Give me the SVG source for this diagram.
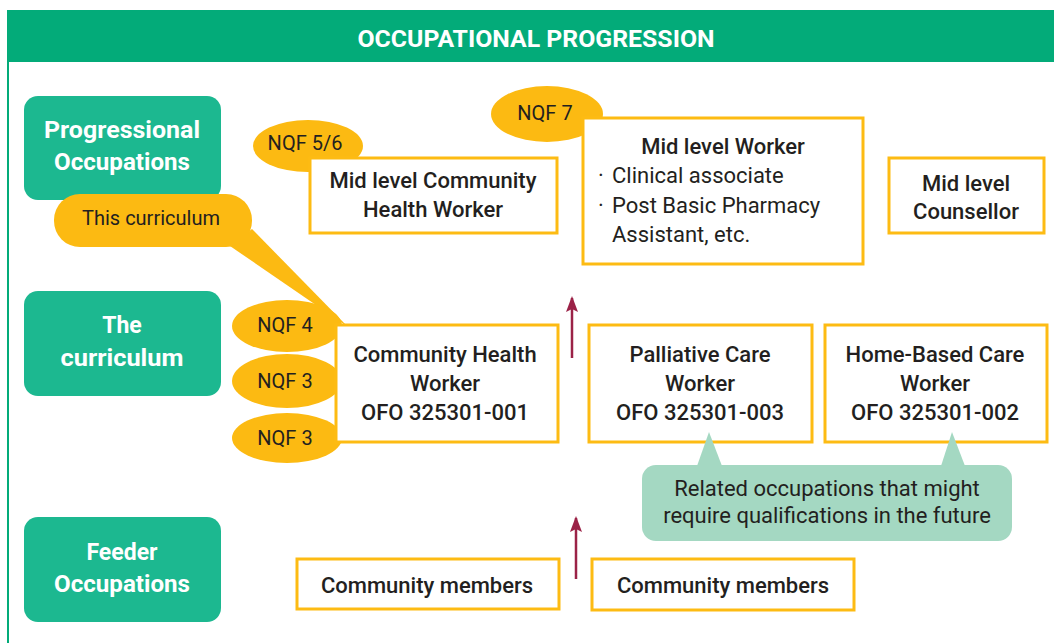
<svg xmlns="http://www.w3.org/2000/svg" width="1054" height="643" viewBox="0 0 1054 643">
<defs>
<style>
.hdr{fill:#03AB79}
.side{fill:#1CB890}
.sideT{font-family:Roboto,"Liberation Sans",sans-serif;font-weight:700;font-size:23px;fill:#fff;text-anchor:middle}
.box{fill:#fff;stroke:#FDBB13;stroke-width:3}
.bt{font-family:Roboto,"Liberation Sans",sans-serif;font-weight:500;font-size:22px;fill:#231F20;text-anchor:middle}
.rt{font-family:Roboto,"Liberation Sans",sans-serif;font-weight:400;font-size:22px;fill:#231F20}
.nqf{fill:#FCBA12}
.nt{font-family:Roboto,"Liberation Sans",sans-serif;font-weight:400;font-size:20px;fill:#231F20;text-anchor:middle}
.note{fill:#A4D8C2}
.arr{stroke:#9B2247;stroke-width:2.5;fill:none}
</style>
<marker id="ah" markerWidth="16" markerHeight="12" refX="14" refY="6" orient="auto" markerUnits="userSpaceOnUse" viewBox="0 0 16 12">
<path d="M16,6 L0,0 L3,6 L0,12 Z" fill="#9B2247"/>
</marker>
</defs>
<rect width="1054" height="643" fill="#fff"/>

<g id="header">
<rect class="hdr" x="7" y="10" width="1047" height="52"/>
<rect x="7" y="62" width="2" height="581" fill="#03AB79"/>
<text x="536" y="47" font-family="Roboto,'Liberation Sans',sans-serif" font-weight="700" font-size="24" fill="#fff" text-anchor="middle" textLength="357" lengthAdjust="spacingAndGlyphs">OCCUPATIONAL PROGRESSION</text>
</g>

<g id="side-progressional">
<rect class="side" x="24" y="96" width="197" height="104" rx="14"/>
<text class="sideT" x="122" y="138" textLength="156" lengthAdjust="spacingAndGlyphs">Progressional</text>
<text class="sideT" x="122" y="170" textLength="136" lengthAdjust="spacingAndGlyphs">Occupations</text>
</g>
<g id="side-curriculum">
<rect class="side" x="24" y="291" width="197" height="105" rx="14"/>
<text class="sideT" x="122" y="333">The</text>
<text class="sideT" x="122" y="366" textLength="123" lengthAdjust="spacingAndGlyphs">curriculum</text>
</g>
<g id="side-feeder">
<rect class="side" x="24" y="517" width="197" height="105" rx="14"/>
<text class="sideT" x="122" y="560">Feeder</text>
<text class="sideT" x="122" y="592" textLength="136" lengthAdjust="spacingAndGlyphs">Occupations</text>
</g>

<g id="mid-chw">
<ellipse class="nqf" cx="308" cy="146" rx="55" ry="26"/>
<text class="nt" x="305" y="150">NQF 5/6</text>
<rect class="box" x="310" y="158" width="247" height="75"/>
<text class="bt" x="433" y="188">Mid level Community</text>
<text class="bt" x="433" y="217">Health Worker</text>
</g>

<g id="mid-worker">
<ellipse class="nqf" cx="547" cy="114" rx="56" ry="28"/>
<text class="nt" x="545" y="120">NQF 7</text>
<rect class="box" x="583" y="118" width="280" height="146"/>
<text class="bt" x="723" y="154">Mid level Worker</text>
<text class="rt" x="598" y="183">·</text>
<text class="rt" x="612" y="183">Clinical associate</text>
<text class="rt" x="598" y="213">·</text>
<text class="rt" x="612" y="213">Post Basic Pharmacy</text>
<text class="rt" x="612" y="242">Assistant, etc.</text>
</g>

<g id="mid-counsellor">
<rect class="box" x="889" y="158" width="155" height="75"/>
<text class="bt" x="966" y="191">Mid level</text>
<text class="bt" x="966" y="219">Counsellor</text>
</g>

<g id="this-curriculum">
<path class="nqf" d="M230,246 L348,327 L252,229 Z"/>
<rect class="nqf" x="54" y="194" width="198" height="53" rx="26"/>
<text class="nt" x="151" y="225" font-size="19.5">This curriculum</text>
</g>

<g id="chw">
<ellipse class="nqf" cx="287" cy="326" rx="55" ry="26"/>
<text class="nt" x="285" y="332">NQF 4</text>
<ellipse class="nqf" cx="287" cy="381" rx="55" ry="27"/>
<text class="nt" x="285" y="388">NQF 3</text>
<ellipse class="nqf" cx="287" cy="438" rx="55" ry="25"/>
<text class="nt" x="285" y="445">NQF 3</text>
<rect class="box" x="336" y="325" width="222" height="117"/>
<text class="bt" x="445" y="362">Community Health</text>
<text class="bt" x="445" y="391">Worker</text>
<text class="bt" x="445" y="420">OFO 325301-001</text>
</g>

<g id="palliative">
<rect class="box" x="589" y="325" width="223" height="117"/>
<text class="bt" x="700" y="362">Palliative Care</text>
<text class="bt" x="700" y="391">Worker</text>
<text class="bt" x="700" y="420">OFO 325301-003</text>
</g>

<g id="home-based">
<rect class="box" x="825" y="325" width="222" height="117"/>
<text class="bt" x="935" y="362">Home-Based Care</text>
<text class="bt" x="935" y="391">Worker</text>
<text class="bt" x="935" y="420">OFO 325301-002</text>
</g>

<g id="related-note">
<path class="note" d="M697,466 L709,432 L722,466 Z"/>
<path class="note" d="M941,466 L952,432 L965,466 Z"/>
<rect class="note" x="642" y="465" width="370" height="76" rx="14"/>
<text class="rt" x="827" y="496" text-anchor="middle">Related occupations that might</text>
<text class="rt" x="827" y="523" text-anchor="middle">require qualifications in the future</text>
</g>

<g id="community-1">
<rect class="box" x="297" y="559" width="262" height="50"/>
<text class="bt" x="427" y="593" font-size="23">Community members</text>
</g>
<g id="community-2">
<rect class="box" x="592" y="559" width="262" height="51"/>
<text class="bt" x="723" y="593" font-size="23">Community members</text>
</g>

<g id="connectors">
<line class="arr" x1="572" y1="358" x2="572" y2="298" marker-end="url(#ah)"/>
<line class="arr" x1="576" y1="579" x2="576" y2="518" marker-end="url(#ah)"/>
</g>
</svg>
